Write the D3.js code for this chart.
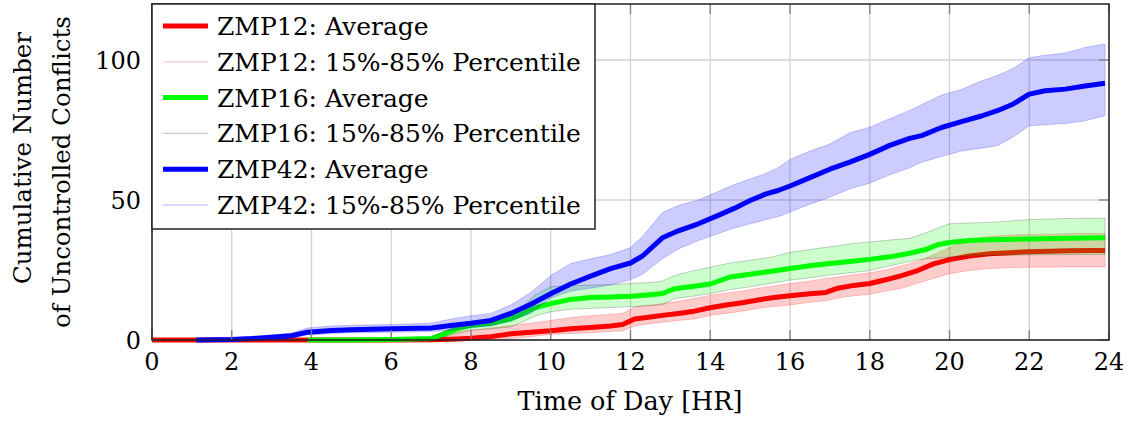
<!DOCTYPE html>
<html>
<head>
<meta charset="utf-8">
<script src="https://cdn.jsdelivr.net/npm/d3@7"></script>
<style>
  body { margin: 0; background: #fff; }
</style>
</head>
<body>
<div id="renderDiv"></div>
<script>
// ---- data ----
const xTicks = [0, 2, 4, 6, 8, 10, 12, 14, 16, 18, 20, 22, 24];
const yTicks = [0, 50, 100];

// ZMP12
const redT = [0, 1, 2, 3, 4, 5, 6, 7, 7.5, 8, 8.5, 9, 9.5, 10, 10.5, 11, 11.5, 11.8, 12.1, 12.5, 12.8, 13.2, 13.6, 14, 14.4, 14.8, 15.2, 15.6, 16, 16.5, 16.9, 17.2, 17.6, 18, 18.4, 18.8, 19.2, 19.6, 20, 20.5, 21, 21.5, 22, 22.5, 23, 23.5, 23.9];
const redAvg = [0, 0, 0, 0, 0, 0, 0, 0.1, 0.3, 0.6, 1.2, 2.2, 2.8, 3.3, 4, 4.5, 5, 5.5, 7.5, 8.2, 8.8, 9.5, 10.3, 11.5, 12.5, 13.3, 14.3, 15.2, 15.8, 16.5, 17, 18.5, 19.5, 20.2, 21.5, 23, 24.8, 27.2, 28.7, 30, 30.8, 31.2, 31.5, 31.7, 31.9, 32, 32];
const redHi = [0, 0.2, 0.3, 0.5, 0.5, 0.5, 0.6, 1, 2.5, 3.5, 4.3, 5.2, 6, 7, 8, 8.7, 9.2, 9.5, 11.8, 12.5, 13, 13.8, 14.8, 16, 16.8, 17.5, 18.5, 19.3, 20.2, 21, 22, 22.5, 23.3, 24, 25, 26.5, 28, 30.5, 33, 36, 37, 37.5, 37.7, 37.8, 38, 38, 38];
const redLo = [0, 0, 0, 0, 0, 0, 0, 0, 0, 0, 0, 0.5, 1.2, 2, 2.3, 2.6, 3, 3.2, 5, 5.8, 6.3, 7, 7.5, 8.8, 9.5, 10.3, 11.3, 12, 12.5, 13.5, 14, 15, 15.8, 16.3, 17.5, 18.5, 20.3, 22, 23.7, 24.8, 25.5, 25.8, 26, 26, 26.1, 26.1, 26.1];

// ZMP16
const greenT = [3.9, 5, 6, 7, 7.3, 7.7, 8, 8.5, 9, 9.3, 9.6, 10, 10.5, 11, 11.5, 12, 12.5, 12.8, 13.1, 13.5, 14, 14.5, 15, 15.5, 16, 16.5, 17, 17.5, 18, 18.5, 19, 19.4, 19.7, 20, 20.5, 21, 22, 23, 23.9];
const greenAvg = [0, 0, 0.2, 0.5, 2, 4.2, 5.2, 6, 7.5, 9.5, 11.5, 13, 14.5, 15.2, 15.4, 15.6, 16.2, 16.6, 18.3, 19, 20, 22.5, 23.5, 24.5, 25.5, 26.5, 27.3, 28, 28.8, 29.7, 31, 32.3, 34, 34.8, 35.5, 35.8, 36.1, 36.3, 36.5];
const greenHi = [0, 0, 0.3, 0.8, 3, 5, 6, 7, 8.5, 12, 16, 19, 19.4, 19.6, 19.8, 20.2, 20.5, 21, 23, 24.5, 26, 27.5, 28.5, 29.5, 31.3, 32.3, 33.3, 34.3, 35, 35.7, 36.3, 38.2, 40, 41.5, 41.8, 42, 43, 43.4, 43.5];
const greenLo = [0, 0, 0, 0.2, 1, 2.5, 3.5, 4, 4.7, 6.5, 8.5, 10.1, 11, 11.3, 11.6, 11.9, 12.3, 12.6, 14.8, 15.5, 16.6, 18, 19, 20.2, 21.4, 22.2, 23.2, 24, 24.8, 26.5, 28, 29, 29.3, 29.6, 30, 30.2, 30.4, 30.5, 30.6];

// ZMP42
const blueT = [1.1, 2, 2.5, 3, 3.5, 3.9, 4.5, 5, 6, 7, 7.5, 8, 8.5, 9, 9.5, 10, 10.5, 11, 11.5, 12, 12.3, 12.8, 13.2, 13.7, 14.2, 14.6, 15, 15.4, 15.7, 16, 16.5, 17, 17.5, 18, 18.5, 19, 19.3, 19.8, 20.3, 20.8, 21.2, 21.6, 22, 22.4, 22.9, 23.4, 23.9];
const blueAvg = [0, 0.2, 0.5, 1, 1.5, 2.8, 3.4, 3.7, 4, 4.3, 5.2, 6, 7, 9.5, 12.8, 16.5, 20, 22.8, 25.5, 27.5, 30, 36.5, 39, 41.5, 44.5, 47, 49.8, 52.2, 53.4, 55, 58, 61, 63.5, 66.3, 69.5, 72, 73, 75.9, 78, 80, 81.9, 84.3, 87.8, 89, 89.6, 90.7, 91.7];
const blueHi = [0.3, 0.8, 1.2, 1.8, 2.5, 4.3, 5, 5.3, 5.5, 6, 7.5, 8.7, 9.5, 12.5, 17, 23, 27.3, 29, 30.5, 33, 37, 45.5, 48, 50, 53, 55.5, 57.5, 59.5, 61.5, 64.5, 67.5, 70, 74, 76, 79, 82, 84, 87.5, 89.5, 92.5, 94.5, 97, 100.8, 101.7, 102.5, 104.5, 105.7];
const blueLo = [0, 0, 0, 0.3, 0.8, 1.8, 2.3, 2.6, 2.8, 3, 3.5, 4.5, 5, 7, 9.5, 15, 17.5, 18.5, 19.6, 21.5, 23.5, 29, 32.5, 35.5, 38, 40, 41.5, 43, 44, 45.7, 48.5, 51, 54, 56, 59, 61.5, 63.5, 65.5, 67.5, 68.5, 69.4, 72.5, 76.5, 76.9, 77.3, 78.3, 80.1];

const legendLabels = ["ZMP12: Average", "ZMP12: 15%-85% Percentile",
    "ZMP16: Average", "ZMP16: 15%-85% Percentile",
    "ZMP42: Average", "ZMP42: 15%-85% Percentile"];

// ---- layout ----
const W = 1136, H = 421;
const plot = { left: 152, right: 1109, top: 4, bottom: 340 };
const FONT = "'DejaVu Serif', serif";

let svg = d3.select("#renderDiv").append("svg")
    .attr("width", W).attr("height", H)
    .attr("font-family", FONT)
    .style("background-color", "#fff");

let xScale = d3.scaleLinear().domain([0, 24]).range([plot.left, plot.right]);
let yScale = d3.scaleLinear().domain([0, 120]).range([plot.bottom, plot.top]);

// grid
let grid = svg.append("g").attr("class", "grid");
grid.selectAll(".vg").data(xTicks).enter().append("line")
    .attr("x1", d => xScale(d)).attr("x2", d => xScale(d))
    .attr("y1", plot.top).attr("y2", plot.bottom)
    .attr("stroke", "#d3d3d3").attr("stroke-width", 1.3);
grid.selectAll(".hg").data(yTicks).enter().append("line")
    .attr("x1", plot.left).attr("x2", plot.right)
    .attr("y1", d => yScale(d)).attr("y2", d => yScale(d))
    .attr("stroke", "#d3d3d3").attr("stroke-width", 1.3);

// series: average line + percentile band
function zipSeries(t, avg, lo, hi) {
    return t.map((d, i) => ({ t: d, avg: avg[i], lo: lo[i], hi: hi[i] }));
}
let series = [
    { data: zipSeries(redT, redAvg, redLo, redHi), color: "#ff0000", bandStroke: "#ff0000" },
    { data: zipSeries(greenT, greenAvg, greenLo, greenHi), color: "#00ff00", bandStroke: "#000000" },
    { data: zipSeries(blueT, blueAvg, blueLo, blueHi), color: "#0000ff", bandStroke: "#0000ff" }
];

let line = d3.line().x(d => xScale(d.t)).y(d => yScale(d.avg));
let area = d3.area().x(d => xScale(d.t)).y0(d => yScale(d.lo)).y1(d => yScale(d.hi));

let marks = svg.append("g").attr("class", "marks");
series.forEach(function (s) {
    marks.append("path")
        .datum(s.data)
        .attr("d", line)
        .attr("fill", "none")
        .attr("stroke", s.color)
        .attr("stroke-width", 5)
        .attr("stroke-linejoin", "round");
    marks.append("path")
        .datum(s.data)
        .attr("d", area)
        .attr("fill", s.color).attr("fill-opacity", 0.2)
        .attr("stroke", s.bandStroke).attr("stroke-opacity", 0.2)
        .attr("stroke-width", 1);
});

// tick marks (inside, all four sides)
let ticks = svg.append("g").attr("stroke", "#808080").attr("stroke-width", 1.3);
xTicks.forEach(function (d) {
    ticks.append("line").attr("x1", xScale(d)).attr("x2", xScale(d))
        .attr("y1", plot.bottom).attr("y2", plot.bottom - 10);
    ticks.append("line").attr("x1", xScale(d)).attr("x2", xScale(d))
        .attr("y1", plot.top).attr("y2", plot.top + 10);
});
yTicks.forEach(function (d) {
    ticks.append("line").attr("x1", plot.left).attr("x2", plot.left + 10)
        .attr("y1", yScale(d)).attr("y2", yScale(d));
    ticks.append("line").attr("x1", plot.right).attr("x2", plot.right - 10)
        .attr("y1", yScale(d)).attr("y2", yScale(d));
});

// frame
svg.append("rect")
    .attr("x", plot.left).attr("y", plot.top)
    .attr("width", plot.right - plot.left).attr("height", plot.bottom - plot.top)
    .attr("fill", "none").attr("stroke", "#222").attr("stroke-width", 1.5);

// tick labels
svg.append("g").selectAll("text").data(xTicks).enter().append("text")
    .attr("x", d => xScale(d)).attr("y", 370)
    .attr("text-anchor", "middle").attr("font-size", 24)
    .text(d => d);
svg.append("g").selectAll("text").data(yTicks).enter().append("text")
    .attr("x", 141).attr("y", d => yScale(d) + 9)
    .attr("text-anchor", "end").attr("font-size", 24)
    .text(d => d);

// axis titles
svg.append("text")
    .attr("x", 630).attr("y", 410)
    .attr("text-anchor", "middle").attr("font-size", 25.5)
    .text("Time of Day [HR]");
svg.append("text")
    .attr("transform", "translate(31,158) rotate(-90)")
    .attr("text-anchor", "middle").attr("font-size", 24.5)
    .text("Cumulative Number");
svg.append("text")
    .attr("transform", "translate(70,172) rotate(-90)")
    .attr("text-anchor", "middle").attr("font-size", 24.5)
    .text("of Uncontrolled Conflicts");

// legend
let legend = svg.append("g").attr("class", "legend");
legend.append("rect")
    .attr("x", plot.left).attr("y", plot.top)
    .attr("width", 443).attr("height", 225)
    .attr("fill", "#fff").attr("stroke", "#222").attr("stroke-width", 1.5);
let legendStyle = [
    { color: "#ff0000", width: 5, opacity: 1 },
    { color: "#ff0000", width: 1.3, opacity: 0.2 },
    { color: "#00ff00", width: 5, opacity: 1 },
    { color: "#000000", width: 1.3, opacity: 0.2 },
    { color: "#0000ff", width: 5, opacity: 1 },
    { color: "#0000ff", width: 1.3, opacity: 0.2 }
];
legendLabels.forEach(function (lab, i) {
    let cy = 26 + i * 35.8;
    legend.append("line")
        .attr("x1", 163).attr("x2", 208)
        .attr("y1", cy).attr("y2", cy)
        .attr("stroke", legendStyle[i].color)
        .attr("stroke-opacity", legendStyle[i].opacity)
        .attr("stroke-width", legendStyle[i].width);
    legend.append("text")
        .attr("x", 217).attr("y", cy + 9)
        .attr("font-size", 25)
        .text(lab);
});
</script>
</body>
</html>
